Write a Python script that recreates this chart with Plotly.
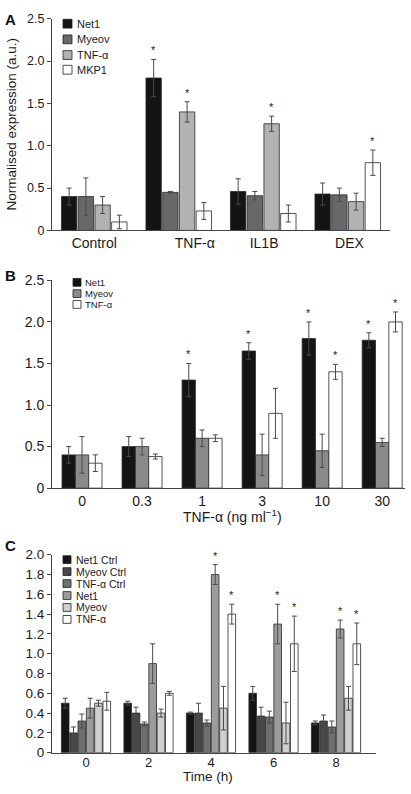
import plotly.graph_objects as go

W, H = 411, 794
FONT = "Liberation Sans, Arial, Helvetica, sans-serif"

# ---------------- Panel A data ----------------
a_categories = ["Control", "TNF-α", "IL1B", "DEX"]
a_series = ["Net1", "Myeov", "TNF-α", "MKP1"]
a_net1 = [0.40, 1.80, 0.46, 0.43]
a_net1_err = [0.10, 0.22, 0.15, 0.13]
a_myeov = [0.40, 0.45, 0.41, 0.42]
a_myeov_err = [0.22, 0.01, 0.05, 0.08]
a_tnf = [0.30, 1.40, 1.26, 0.34]
a_tnf_err = [0.10, 0.12, 0.09, 0.10]
a_mkp1 = [0.10, 0.23, 0.20, 0.80]
a_mkp1_err = [0.08, 0.10, 0.10, 0.15]
a_net1_sig = [0, 1, 0, 0]
a_myeov_sig = [0, 0, 0, 0]
a_tnf_sig = [0, 1, 1, 0]
a_mkp1_sig = [0, 0, 0, 1]
a_yticks = [0, 0.5, 1.0, 1.5, 2.0, 2.5]
a_yticklabels = ["0", "0.5", "1.0", "1.5", "2.0", "2.5"]

# ---------------- Panel B data ----------------
b_categories = ["0", "0.3", "1", "3", "10", "30"]
b_series = ["Net1", "Myeov", "TNF-α"]
b_net1 = [0.40, 0.50, 1.30, 1.65, 1.80, 1.78]
b_net1_err = [0.10, 0.12, 0.20, 0.10, 0.20, 0.09]
b_myeov = [0.40, 0.50, 0.60, 0.40, 0.45, 0.55]
b_myeov_err = [0.22, 0.10, 0.10, 0.25, 0.20, 0.05]
b_tnf = [0.30, 0.38, 0.60, 0.90, 1.40, 2.00]
b_tnf_err = [0.10, 0.03, 0.04, 0.30, 0.09, 0.12]
b_net1_sig = [0, 0, 1, 1, 1, 1]
b_myeov_sig = [0, 0, 0, 0, 0, 0]
b_tnf_sig = [0, 0, 0, 0, 1, 1]
b_yticks = [0, 0.5, 1.0, 1.5, 2.0, 2.5]
b_yticklabels = ["0", "0.5", "1.0", "1.5", "2.0", "2.5"]

# ---------------- Panel C data ----------------
c_categories = ["0", "2", "4", "6", "8"]
c_series = ["Net1 Ctrl", "Myeov Ctrl", "TNF-α Ctrl", "Net1", "Myeov", "TNF-α"]
c_net1_ctrl = [0.50, 0.50, 0.40, 0.60, 0.30]
c_net1_ctrl_err = [0.05, 0.02, 0.01, 0.07, 0.02]
c_myeov_ctrl = [0.20, 0.40, 0.40, 0.37, 0.32]
c_myeov_ctrl_err = [0.06, 0.06, 0.10, 0.09, 0.06]
c_tnf_ctrl = [0.32, 0.29, 0.30, 0.36, 0.26]
c_tnf_ctrl_err = [0.07, 0.02, 0.03, 0.06, 0.06]
c_net1 = [0.45, 0.90, 1.80, 1.30, 1.25]
c_net1_err = [0.10, 0.20, 0.10, 0.20, 0.09]
c_myeov = [0.50, 0.40, 0.45, 0.30, 0.55]
c_myeov_err = [0.03, 0.04, 0.22, 0.21, 0.12]
c_tnf = [0.52, 0.60, 1.40, 1.10, 1.10]
c_tnf_err = [0.09, 0.02, 0.10, 0.28, 0.21]
c_net1_ctrl_sig = [0, 0, 0, 0, 0]
c_myeov_ctrl_sig = [0, 0, 0, 0, 0]
c_tnf_ctrl_sig = [0, 0, 0, 0, 0]
c_net1_sig = [0, 0, 1, 1, 1]
c_myeov_sig = [0, 0, 0, 0, 0]
c_tnf_sig = [0, 0, 1, 1, 1]
c_yticks = [0, 0.2, 0.4, 0.6, 0.8, 1.0, 1.2, 1.4, 1.6, 1.8, 2.0]
c_yticklabels = ["0", "0.2", "0.4", "0.6", "0.8", "1.0", "1.2", "1.4", "1.6", "1.8", "2.0"]

# ---------------- Styles ----------------
a_colors = ["#141414", "#686868", "#b2b2b2", "#ffffff"]
b_colors = ["#141414", "#8a8a8a", "#ffffff"]
c_colors = ["#141414", "#484848", "#6e6e6e", "#9c9c9c", "#d0d0d0", "#ffffff"]
AXIS_COLOR = "#444444"
ERR_COLOR = "#4a4a4a"


def px_x(p):
    return p / W


def px_y(p):
    return 1 - p / H


fig = go.Figure()


def add_panel(suffix, n_groups, series, values, errors, sigs, colors, slot, barw):
    xa = "x" + suffix
    ya = "y" + suffix
    n = len(series)
    for j in range(n):
        offs = (j - (n - 1) / 2) * slot
        xs = [g + offs for g in range(n_groups)]
        fig.add_trace(go.Bar(
            x=xs, y=values[j], width=barw, name=series[j],
            marker=dict(color=colors[j], line=dict(color="#2a2a2a", width=0.8)),
            error_y=dict(type="data", array=errors[j], visible=True,
                         color=ERR_COLOR, thickness=1, width=2.5),
            xaxis=xa, yaxis=ya, showlegend=False,
        ))
        for g in range(n_groups):
            if sigs[j][g]:
                fig.add_annotation(
                    x=xs[g], y=values[j][g] + errors[j][g], xref=xa, yref=ya,
                    text="*", showarrow=False, yanchor="bottom", yshift=1,
                    font=dict(size=11, color="#222", family=FONT),
                )


add_panel("", len(a_categories), a_series,
          [a_net1, a_myeov, a_tnf, a_mkp1],
          [a_net1_err, a_myeov_err, a_tnf_err, a_mkp1_err],
          [a_net1_sig, a_myeov_sig, a_tnf_sig, a_mkp1_sig],
          a_colors, 0.198, 0.182)
add_panel("2", len(b_categories), b_series,
          [b_net1, b_myeov, b_tnf],
          [b_net1_err, b_myeov_err, b_tnf_err],
          [b_net1_sig, b_myeov_sig, b_tnf_sig],
          b_colors, 0.222, 0.222)
add_panel("3", len(c_categories), c_series,
          [c_net1_ctrl, c_myeov_ctrl, c_tnf_ctrl, c_net1, c_myeov, c_tnf],
          [c_net1_ctrl_err, c_myeov_ctrl_err, c_tnf_ctrl_err, c_net1_err, c_myeov_err, c_tnf_err],
          [c_net1_ctrl_sig, c_myeov_ctrl_sig, c_tnf_ctrl_sig, c_net1_sig, c_myeov_sig, c_tnf_sig],
          c_colors, 0.133, 0.122)

axis_common = dict(showline=True, linecolor=AXIS_COLOR, linewidth=1, showgrid=False,
                   zeroline=False, mirror=False)

a_tick_pos = [0.0, 1.19, 2.01, 3.02]

fig.update_layout(
    width=W, height=H,
    margin=dict(l=0, r=0, t=0, b=0),
    paper_bgcolor="white", plot_bgcolor="white",
    font=dict(family=FONT, color="#1a1a1a"),
    barmode="overlay",
    xaxis=dict(domain=[px_x(52), px_x(390)], range=[-0.5, 3.5], anchor="y",
               tickvals=a_tick_pos, ticktext=a_categories, ticks="",
               tickfont=dict(size=14), **axis_common),
    yaxis=dict(domain=[px_y(227), px_y(11)], range=[0, 2.5], anchor="x",
               tickvals=a_yticks, ticktext=a_yticklabels, ticks="outside", ticklen=4,
               tickcolor=AXIS_COLOR, tickfont=dict(size=12.5), **axis_common),
    xaxis2=dict(domain=[px_x(52), px_x(405)], range=[-0.5, 5.38], anchor="y2",
                tickvals=list(range(len(b_categories))), ticktext=b_categories, ticks="",
                tickfont=dict(size=14), **axis_common),
    yaxis2=dict(domain=[px_y(490), px_y(278)], range=[0, 2.5], anchor="x2",
                tickvals=b_yticks, ticktext=b_yticklabels, ticks="outside", ticklen=4,
                tickcolor=AXIS_COLOR, tickfont=dict(size=14), **axis_common),
    xaxis3=dict(domain=[px_x(52), px_x(376)], range=[-0.544, 4.64], anchor="y3",
                tickvals=list(range(len(c_categories))), ticktext=c_categories, ticks="",
                ticklabelstandoff=-2,
                tickfont=dict(size=13), **axis_common),
    yaxis3=dict(domain=[px_y(760), px_y(558)], range=[0, 2.0], anchor="x3",
                tickvals=c_yticks, ticktext=c_yticklabels, ticks="outside", ticklen=4,
                tickcolor=AXIS_COLOR, tickfont=dict(size=13.5), **axis_common),
)

# Panel letters and axis titles
for letter, ypx in [("A", 12), ("B", 273), ("C", 549)]:
    fig.add_annotation(x=px_x(3), y=px_y(ypx), xref="paper", yref="paper", text="<b>%s</b>" % letter,
                       showarrow=False, xanchor="left", yanchor="middle",
                       font=dict(size=15, family=FONT, color="#111"))

fig.add_annotation(x=px_x(12), y=px_y(119), xref="paper", yref="paper",
                   text="Normalised expression (a.u.)", textangle=-90, showarrow=False,
                   xanchor="center", yanchor="middle", font=dict(size=13.5, family=FONT))
fig.add_annotation(x=px_x(232), y=px_y(518), xref="paper", yref="paper",
                   text="TNF-α (ng ml<sup>−1</sup>)", showarrow=False,
                   xanchor="center", yanchor="middle", font=dict(size=14, family=FONT))
fig.add_annotation(x=px_x(208), y=px_y(794), xref="paper", yref="paper",
                   text="Time (h)", showarrow=False,
                   xanchor="center", yanchor="bottom", font=dict(size=13.5, family=FONT))


# Custom compact legends
def add_legend(series, colors, x0, y_rows, size, text_x, fsize):
    for name, col, yc in zip(series, colors, y_rows):
        fig.add_shape(type="rect", xref="paper", yref="paper",
                      x0=px_x(x0), x1=px_x(x0 + size),
                      y0=px_y(yc + size / 2), y1=px_y(yc - size / 2),
                      fillcolor=col, line=dict(color="#222", width=0.8))
        fig.add_annotation(x=px_x(text_x), y=px_y(yc), xref="paper", yref="paper",
                           text=name, showarrow=False, xanchor="left", yanchor="middle",
                           font=dict(size=fsize, family=FONT, color="#1a1a1a"))


add_legend(a_series, a_colors, 63, [16, 32, 48, 63], 9, 75, 11)
add_legend(b_series, b_colors, 73, [280, 291.5, 302.5], 8, 83, 9.5)
add_legend(c_series, c_colors, 63, [563, 575.2, 587.4, 599.6, 611.8, 624], 8, 74, 10.5)

fig.write_html(
    "out.html",
    config={"displayModeBar": False},
    post_script="document.body.style.margin='0';document.body.style.padding='0';"
                "document.documentElement.style.overflow='hidden';",
)
